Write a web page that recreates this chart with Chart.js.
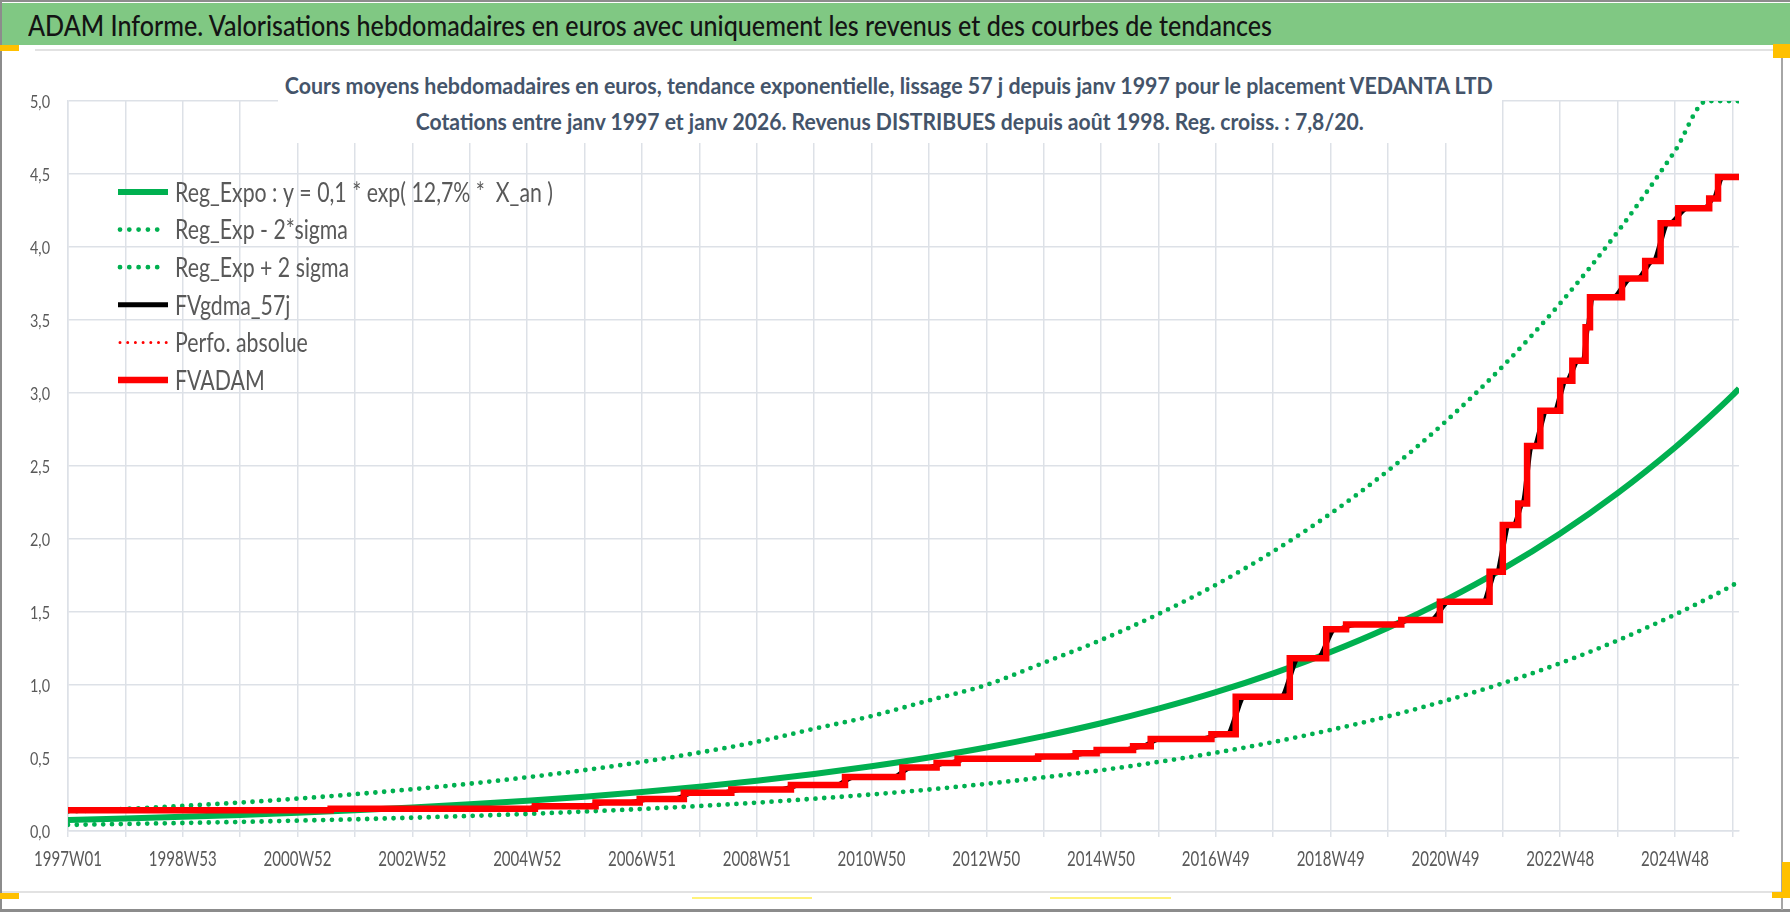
<!DOCTYPE html>
<html lang="fr">
<head>
<meta charset="utf-8">
<title>ADAM Informe - VEDANTA LTD</title>
<script src="https://cdn.jsdelivr.net/npm/chart.js@4.4.1/dist/chart.umd.min.js"></script>
<style>
  html, body { margin: 0; padding: 0; background: #fff; }
  body { width: 1790px; height: 912px; position: relative; overflow: hidden; font-family: Lato, "Open Sans", sans-serif; }
  #chart { position: absolute; left: 0; top: 0; }
  .frame { position: absolute; background: #8c8c8c; }
  .tab { position: absolute; background: #ffc000; }
  .bar { position: absolute; left: 2px; top: 3px; width: 1788px; height: 42px; background: #80c883; }
  .fit { position: absolute; white-space: nowrap; line-height: 1.2; }
  #title { left: 28px; top: 8px; font-size: 29px; font-weight: 500; color: #141414; transform-origin: 0 50%; }
  #subBox { position: absolute; left: 278px; top: 56px; width: 1224px; height: 87px; background: #fff; }
  .sub { font-size: 23px; font-weight: bold; color: #44546a; transform-origin: 50% 50%; }
</style>
</head>
<body>
<canvas id="chart" width="1790" height="912"></canvas>

<div class="bar"></div>
<span id="title" class="fit">ADAM Informe. Valorisations hebdomadaires en euros avec uniquement les revenus et des courbes de tendances</span>
<div id="subBox"></div>
<span id="sub1" class="fit sub" style="top:72px">Cours moyens hebdomadaires en euros, tendance exponentielle, lissage 57 j depuis janv 1997 pour le placement VEDANTA LTD</span>
<span id="sub2" class="fit sub" style="top:108px">Cotations entre janv 1997 et janv 2026. Revenus DISTRIBUES depuis août 1998. Reg. croiss. : 7,8/20.</span>

<!-- cadre et petits repères -->
<div class="frame" style="left:0;top:0;width:1790px;height:2px"></div>
<div class="frame" style="left:0;top:0;width:2px;height:912px"></div>
<div class="frame" style="left:0;top:909px;width:1790px;height:3px"></div>
<div class="frame" style="left:1781px;top:50px;width:2px;height:860px;background:#a6a6a6"></div>
<div style="position:absolute;left:35px;top:49px;width:1745px;height:2px;background:#e2e2e2"></div>
<div style="position:absolute;left:2px;top:891px;width:1779px;height:2px;background:#e2e2e2"></div>
<div class="tab" style="left:0;top:45px;width:19px;height:6px"></div>
<div class="tab" style="left:1773px;top:44px;width:17px;height:14px"></div>
<div class="tab" style="left:0;top:893px;width:19px;height:6px"></div>
<div class="tab" style="left:1782px;top:862px;width:8px;height:36px"></div>
<div class="tab" style="left:1772px;top:892px;width:18px;height:6px"></div>
<div style="position:absolute;left:692px;top:897px;width:120px;height:2px;background:#fff27a"></div>
<div style="position:absolute;left:1050px;top:897px;width:121px;height:2px;background:#fff27a"></div>

<script>
// axe des semaines : index 0 = 1997W01, dernier point ~2026W01
const xTickLabels = ['1997W01', '1998W53', '2000W52', '2002W52', '2004W52', '2006W51', '2008W51',
    '2010W50', '2012W50', '2014W50', '2016W49', '2018W49', '2020W49', '2022W48', '2024W48'];
const lastWeek = 1514;

// courbes de tendance
const trendWeeks = [0, 52, 104, 156, 208, 260, 312, 364, 416, 468, 520, 572, 624, 676, 728, 780,
    832, 884, 936, 988, 1040, 1092, 1144, 1196, 1248, 1300, 1352, 1404, 1456, 1485, 1508, 1514];
const regExpo = [0.075, 0.085, 0.097, 0.110, 0.125, 0.142, 0.161, 0.183, 0.207, 0.235, 0.267, 0.303,
    0.344, 0.391, 0.444, 0.504, 0.572, 0.650, 0.738, 0.838, 0.951, 1.080, 1.226, 1.392, 1.581, 1.795,
    2.038, 2.314, 2.627, 2.82, 2.983, 3.03];
const regLow = [0.042, 0.048, 0.055, 0.062, 0.071, 0.080, 0.091, 0.103, 0.117, 0.133, 0.151, 0.171,
    0.194, 0.221, 0.250, 0.284, 0.323, 0.367, 0.416, 0.473, 0.536, 0.609, 0.692, 0.785, 0.892, 1.012,
    1.149, 1.305, 1.482, 1.59, 1.682, 1.71];
const regHigh = [0.133, 0.151, 0.172, 0.195, 0.222, 0.252, 0.286, 0.324, 0.368, 0.417, 0.473, 0.537,
    0.610, 0.700, 0.787, 0.894, 1.000, 1.152, 1.308, 1.486, 1.686, 1.915, 2.174, 2.468, 2.803, 3.183,
    3.614, 4.103, 4.658, 5.0, 5.0, 5.0];

// FVADAM : marches (semaine du saut, valeur après le saut)
const stepWeeks = [0, 238, 423, 478, 518, 558, 601, 655, 704, 756, 787, 806, 879, 913, 932, 965, 981,
    1036, 1058, 1107, 1140, 1158, 1208, 1243, 1288, 1300, 1314, 1322, 1334, 1352, 1363, 1375, 1379,
    1408, 1429, 1443, 1459, 1487, 1495];
const stepValues = [0.142, 0.152, 0.17, 0.195, 0.22, 0.262, 0.285, 0.315, 0.37, 0.435, 0.465, 0.495,
    0.51, 0.532, 0.555, 0.58, 0.63, 0.662, 0.92, 1.183, 1.381, 1.415, 1.445, 1.57, 1.776, 2.096, 2.244,
    2.637, 2.879, 3.084, 3.221, 3.45, 3.655, 3.785, 3.904, 4.162, 4.265, 4.333, 4.48];

const green = '#00b050';
const red = '#ff0000';
const gridColor = '#dde1e7';
const textGrey = '#595959';

function pts(xs, ys) {
    return xs.map((x, i) => ({ x: x, y: ys[i] }));
}

const stepPts = pts(stepWeeks, stepValues);
stepPts.push({ x: lastWeek, y: stepValues[stepValues.length - 1] });

// moyenne glissante : mêmes marches, transitions adoucies autour de chaque saut
function smoothSteps(weeks, values, half) {
    const out = [{ x: weeks[0], y: values[0] }];
    for (let i = 1; i < weeks.length; i++) {
        const prevGap = weeks[i] - weeks[i - 1];
        const nextGap = (i + 1 < weeks.length ? weeks[i + 1] : lastWeek) - weeks[i];
        const d = Math.min(half, prevGap / 2, nextGap / 2) - 0.05;
        out.push({ x: weeks[i] - d, y: values[i - 1] });
        out.push({ x: weeks[i] + d, y: values[i] });
    }
    out.push({ x: lastWeek, y: values[values.length - 1] });
    return out;
}

function drawSquashed(ctx, text, x, y, align, sx) {
    ctx.save();
    ctx.translate(x, y);
    ctx.scale(sx, 1);
    ctx.textAlign = align;
    ctx.fillText(text, 0, 0);
    ctx.restore();
}

const excelText = {
    id: 'excelText',
    afterDraw(chart) {
        const { ctx } = chart;
        const xs = chart.scales.x;
        const ys = chart.scales.y;
        ctx.save();
        ctx.fillStyle = textGrey;
        ctx.textBaseline = 'middle';

        ctx.font = '18px Lato';
        const sy = 20 / ctx.measureText('4,5').width;
        ys.ticks.forEach(t => {
            drawSquashed(ctx, t.value.toFixed(1).replace('.', ','), 50, ys.getPixelForValue(t.value) + 1, 'right', sy);
        });

        ctx.font = '21px Lato';
        const sx = 68 / ctx.measureText('1997W01').width;
        xs.ticks.forEach((t, k) => {
            if (k % 2 === 0 && xTickLabels[k / 2]) {
                drawSquashed(ctx, xTickLabels[k / 2], xs.getPixelForValue(t.value), 859, 'center', sx);
            }
        });

        // légende dans la zone du graphique
        ctx.font = '27px Lato';
        const sl = 378 / ctx.measureText(chart.data.datasets[0].label).width;
        chart.data.datasets.forEach((ds, i) => {
            const rowY = 192 + i * 37.6;
            ctx.save();
            ctx.strokeStyle = ds.borderColor;
            ctx.lineWidth = ds.borderWidth;
            ctx.lineCap = ds.borderDash ? 'round' : 'butt';
            ctx.setLineDash(ds.borderDash ? ds.legendDash : []);
            ctx.beginPath();
            ctx.moveTo(ds.borderDash ? 120 : 118, rowY);
            ctx.lineTo(ds.borderDash ? 166.5 : 168, rowY);
            ctx.stroke();
            ctx.restore();
            ctx.fillStyle = textGrey;
            drawSquashed(ctx, ds.label, 175, rowY + 1, 'left', sl);
        });
        ctx.restore();
    }
};

new Chart(document.getElementById('chart'), {
    type: 'line',
    data: {
        datasets: [
            {
                label: 'Reg_Expo : y = 0,1 * exp( 12,7% *  X_an )',
                data: pts(trendWeeks, regExpo),
                borderColor: green, borderWidth: 6,
                cubicInterpolationMode: 'monotone', order: 3
            },
            {
                label: 'Reg_Exp - 2*sigma',
                data: pts(trendWeeks, regLow),
                borderColor: green, borderWidth: 4.8,
                borderDash: [0, 8.8], legendDash: [0, 9.3], borderCapStyle: 'round',
                cubicInterpolationMode: 'monotone', order: 4
            },
            {
                label: 'Reg_Exp + 2 sigma',
                data: pts(trendWeeks, regHigh),
                borderColor: green, borderWidth: 4.8,
                borderDash: [0, 8.8], legendDash: [0, 9.3], borderCapStyle: 'round',
                cubicInterpolationMode: 'monotone', order: 4
            },
            {
                label: 'FVgdma_57j',
                data: smoothSteps(stepWeeks, stepValues, 8),
                borderColor: '#000000', borderWidth: 5,
                cubicInterpolationMode: 'monotone', order: 1
            },
            {
                label: 'Perfo. absolue',
                data: stepPts, stepped: 'before',
                borderColor: red, borderWidth: 3,
                borderDash: [0, 6], legendDash: [0, 7.7], borderCapStyle: 'round', order: 2
            },
            {
                label: 'FVADAM',
                data: stepPts, stepped: 'before',
                borderColor: red, borderWidth: 6.5, order: 0
            }
        ]
    },
    options: {
        responsive: false,
        animation: false,
        events: [],
        layout: { padding: { top: 101, right: 51, bottom: 0, left: 0 } },
        elements: { point: { radius: 0 } },
        plugins: {
            legend: { display: false },
            tooltip: { enabled: false }
        },
        scales: {
            x: {
                type: 'linear',
                min: 0,
                max: lastWeek,
                afterBuildTicks: scale => {
                    scale.ticks = Array.from({ length: 30 }, (_, k) => ({ value: k * 52 }));
                },
                afterFit: scale => { scale.height = 81; },
                ticks: { display: false, autoSkip: false },
                grid: { color: gridColor, lineWidth: 1.5, drawTicks: true, tickLength: 6 },
                border: { color: gridColor, width: 1.5 }
            },
            y: {
                min: 0,
                max: 5,
                afterFit: scale => { scale.width = 68; },
                ticks: { display: false, stepSize: 0.5 },
                grid: { color: gridColor, lineWidth: 1.5, drawTicks: false },
                border: { color: gridColor, width: 1.5 }
            }
        }
    },
    plugins: [excelText]
});

// titres : largeur ajustée comme sur l'image
function fitWidth(id, target, centerX) {
    const el = document.getElementById(id);
    const w = el.getBoundingClientRect().width;
    if (centerX !== undefined) el.style.left = (centerX - w / 2) + 'px';
    el.style.transform = 'scaleX(' + (target / w) + ')';
}
fitWidth('title', 1244);
fitWidth('sub1', 1208, 889);
fitWidth('sub2', 948, 890);
</script>
</body>
</html>
